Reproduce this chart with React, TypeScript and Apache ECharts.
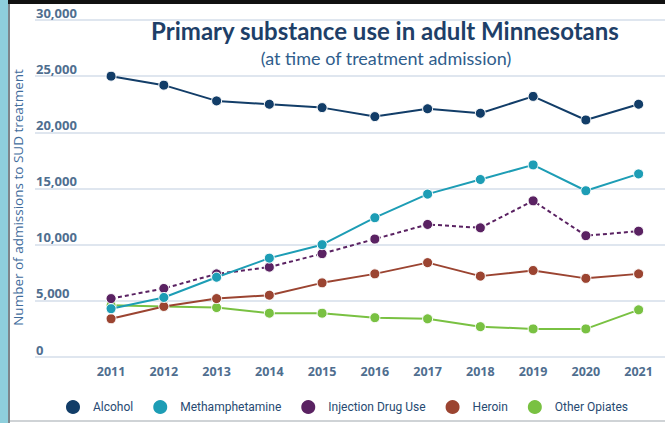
import React, { useEffect, useRef } from "react";
import * as echarts from "echarts";

const years = ["2011", "2012", "2013", "2014", "2015", "2016", "2017", "2018", "2019", "2020", "2021"];
const alcohol = [25000, 24200, 22800, 22500, 22200, 21400, 22100, 21700, 23200, 21100, 22500];
const methamphetamine = [4300, 5300, 7100, 8800, 10000, 12400, 14500, 15800, 17100, 14800, 16300];
const injectionDrugUse = [5200, 6100, 7400, 8000, 9200, 10500, 11800, 11500, 13900, 10800, 11200];
const heroin = [3400, 4500, 5200, 5500, 6600, 7400, 8400, 7200, 7700, 7000, 7400];
const otherOpiates = [4600, 4500, 4400, 3900, 3900, 3500, 3400, 2700, 2500, 2500, 4200];

const seriesNames = ["Alcohol", "Methamphetamine", "Injection Drug Use", "Heroin", "Other Opiates"];
const seriesColors = ["#123d68", "#1d9db5", "#5a2262", "#9b4431", "#79c142"];
const seriesData = [alcohol, methamphetamine, injectionDrugUse, heroin, otherOpiates];

const titleText = "Primary substance use in adult Minnesotans";
const subtitleText = "(at time of treatment admission)";
const yAxisName = "Number of admissions to SUD treatment";

export default function App() {
  const ref = useRef<HTMLDivElement>(null);
  useEffect(() => {
    document.body.style.margin = "0";
    if (!ref.current) return;
    const chart = echarts.init(ref.current, null, { renderer: "svg" });
    const top = 20;
    const height = 337;
    chart.setOption({
      animation: false,
      backgroundColor: "#ffffff",
      title: [
        {
          text: titleText,
          left: 380,
          top: 13,
          textAlign: "center",
          textStyle: { fontFamily: "Lato", fontWeight: 700, fontSize: 24, color: "#1e3f68" },
        },
        {
          text: subtitleText,
          left: 381,
          top: 44,
          textAlign: "center",
          textStyle: { fontFamily: "Lato", fontWeight: 400, fontSize: 18, color: "#2f5d8c" },
        },
      ],
      legend: {
        data: seriesNames,
        bottom: 2,
        left: 59,
        icon: "circle",
        itemWidth: 30,
        itemHeight: 16,
        itemGap: 18,
        textStyle: { fontFamily: "Roboto", fontSize: 12, color: "#274a72" },
      },
      grid: [
        { left: 35, right: 0, top, height },
        { left: 84.7, width: 594, top, height },
      ],
      xAxis: [
        { type: "value", gridIndex: 0, min: 0, max: 1, show: false },
        {
          type: "category",
          gridIndex: 1,
          data: years,
          boundaryGap: true,
          axisLine: { show: false },
          axisTick: { show: false },
          axisLabel: {
            margin: 8,
            fontFamily: "Open Sans",
            fontWeight: 700,
            fontSize: 12.5,
            color: "#4f6e8f",
          },
        },
      ],
      yAxis: [
        {
          type: "value",
          gridIndex: 0,
          min: 0,
          max: 30000,
          interval: 5000,
          axisLine: { show: false },
          axisTick: { show: false },
          splitLine: { lineStyle: { color: "#dfe6ef", width: 2 } },
          axisLabel: {
            inside: true,
            margin: 1,
            verticalAlign: "bottom",
            padding: [0, 0, 1, 0],
            fontFamily: "Open Sans",
            fontWeight: 700,
            fontSize: 13,
            color: "#4f6e8f",
            formatter: (v: number) => v.toLocaleString("en-US"),
          },
          name: yAxisName,
          nameLocation: "middle",
          nameRotate: 90,
          nameGap: 8,
          nameTextStyle: { fontFamily: "Open Sans", fontSize: 13.5, color: "#3f6c9c", padding: [0, 18, 0, 0] },
        },
        { type: "value", gridIndex: 1, min: 0, max: 30000, show: false },
      ],
      series: seriesNames.map((name, i) => ({
        name,
        type: "line",
        xAxisIndex: 1,
        yAxisIndex: 1,
        data: seriesData[i],
        symbol: "circle",
        symbolSize: 10,
        lineStyle: { color: seriesColors[i], width: 2, type: i === 2 ? [4, 3] : "solid" },
        itemStyle: { color: seriesColors[i], borderColor: "#ffffff", borderWidth: 1 },
        z: 10 - i,
      })),
      graphic: [
        { type: "rect", shape: { x: 0, y: 0, width: 8, height: 423 }, style: { fill: "#8ecfdc" }, z: 100 },
        { type: "rect", shape: { x: 8, y: 0, width: 2, height: 423 }, style: { fill: "#7d868b" }, z: 100 },
        { type: "rect", shape: { x: 8, y: 0, width: 657, height: 4 }, style: { fill: "#111111" }, z: 100 },
        { type: "rect", shape: { x: 10, y: 420, width: 655, height: 2 }, style: { fill: "#cfd3d6" }, z: 100 },
      ],
    });
    return () => chart.dispose();
  }, []);
  return <div ref={ref} style={{ width: 665, height: 423 }} />;
}
